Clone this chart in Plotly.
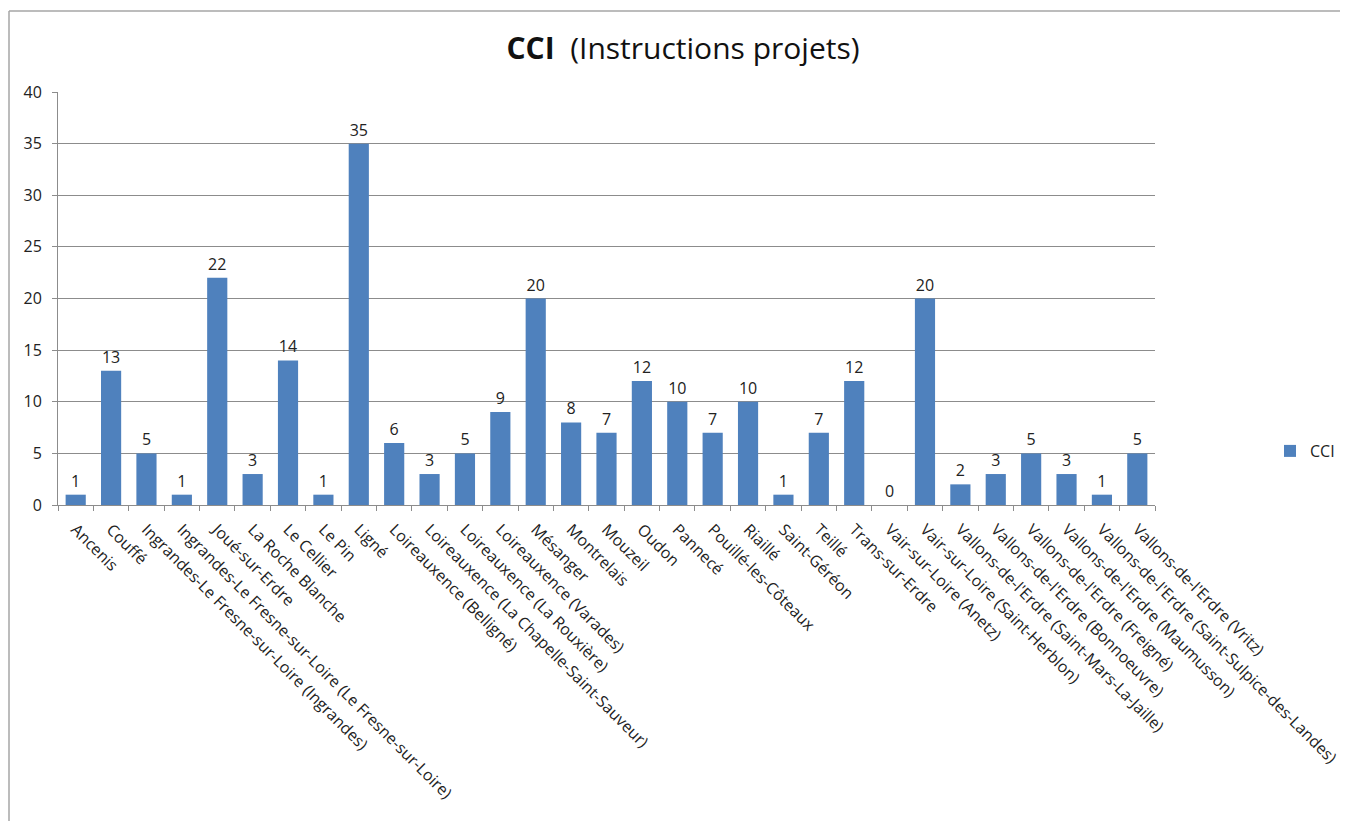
import plotly.graph_objects as go

categories = [
    "Ancenis", "Couffé",
    "Ingrandes-Le Fresne-sur-Loire (Ingrandes)",
    "Ingrandes-Le Fresne-sur-Loire (Le Fresne-sur-Loire)",
    "Joué-sur-Erdre", "La Roche Blanche", "Le Cellier", "Le Pin", "Ligné",
    "Loireauxence (Belligné)", "Loireauxence (La Chapelle-Saint-Sauveur)",
    "Loireauxence (La Rouxière)", "Loireauxence (Varades)",
    "Mésanger", "Montrelais", "Mouzeil", "Oudon", "Pannecé",
    "Pouillé-les-Côteaux", "Riaillé", "Saint-Géréon", "Teillé",
    "Trans-sur-Erdre", "Vair-sur-Loire (Anetz)", "Vair-sur-Loire (Saint-Herblon)",
    "Vallons-de-l'Erdre (Saint-Mars-La-Jaille)", "Vallons-de-l'Erdre (Bonnoeuvre)",
    "Vallons-de-l'Erdre (Freigné)", "Vallons-de-l'Erdre (Maumusson)",
    "Vallons-de-l'Erdre (Saint-Sulpice-des-Landes)", "Vallons-de-l'Erdre (Vritz)",
]
cci_values = [1, 13, 5, 1, 22, 3, 14, 1, 35, 6, 3, 5, 9, 20, 8, 7, 12, 10,
              7, 10, 1, 7, 12, 0, 20, 2, 3, 5, 3, 1, 5]
y_ticks = [0, 5, 10, 15, 20, 25, 30, 35, 40]

FONT = "Open Sans"
GRID = "#8c8c8c"

# page has an 8px body margin; work in figure coordinates
OFF = 8
W, H = 1348 - OFF, 821 - OFF
L, R, T, B = 58 - OFF, 1155 - OFF, 92 - OFF, 505 - OFF
pw, ph = R - L, B - T

fig = go.Figure()
fig.add_trace(go.Bar(
    x=categories, y=cci_values, name="CCI",
    marker=dict(color="#4F81BD", line=dict(width=0)),
    text=[str(v) for v in cci_values], textposition="outside",
    textfont=dict(family=FONT, size=16, color="#222222"),
    cliponaxis=False,
))

fig.update_layout(
    width=W, height=H,
    margin=dict(l=L, r=W - R, t=T, b=H - B, autoexpand=False),
    paper_bgcolor="white", plot_bgcolor="white",
    bargap=0.43,
    font=dict(family=FONT, size=16, color="#222222"),
    title=dict(
        text="<b>CCI</b>  (Instructions projets)",
        x=(683 - OFF) / W, xanchor="center", xref="container",
        y=1 - (48 - OFF) / H, yanchor="middle",
        font=dict(family=FONT, size=30, color="#111111"),
    ),
    showlegend=True,
    legend=dict(
        x=(1270 - OFF - L) / pw, xanchor="left",
        y=(B - (451 - OFF)) / ph, yanchor="middle",
        font=dict(family=FONT, size=16, color="#222222"),
        bgcolor="rgba(0,0,0,0)",
    ),
    xaxis=dict(
        type="category", tickangle=45,
        ticks="outside", tickson="boundaries", ticklen=5, tickcolor=GRID,
        showline=True, linecolor=GRID, linewidth=1,
        showgrid=False, ticklabelstandoff=8,
        tickfont=dict(family=FONT, size=16, color="#222222"),
    ),
    yaxis=dict(
        range=[0, 40], tickvals=y_ticks,
        ticks="outside", ticklen=5, tickcolor=GRID,
        showline=True, linecolor=GRID, linewidth=1,
        showgrid=True, gridcolor=GRID, gridwidth=1,
        zeroline=False, ticklabelstandoff=7,
        tickfont=dict(family=FONT, size=16, color="#222222"),
    ),
)

# chart-area border (left and top edges visible)
bx = (9 - OFF - L) / pw
by_top = (B - (11 - OFF)) / ph
by_bot = (B - H - 5) / ph
bx_right = (W + 5 - L) / pw
fig.add_shape(type="line", xref="paper", yref="paper",
              x0=bx, x1=bx, y0=by_bot, y1=by_top,
              line=dict(color="#a6a6a6", width=1.5))
fig.add_shape(type="line", xref="paper", yref="paper",
              x0=bx, x1=bx_right, y0=by_top, y1=by_top,
              line=dict(color="#a6a6a6", width=1.5))

fig.write_html("out.html")
